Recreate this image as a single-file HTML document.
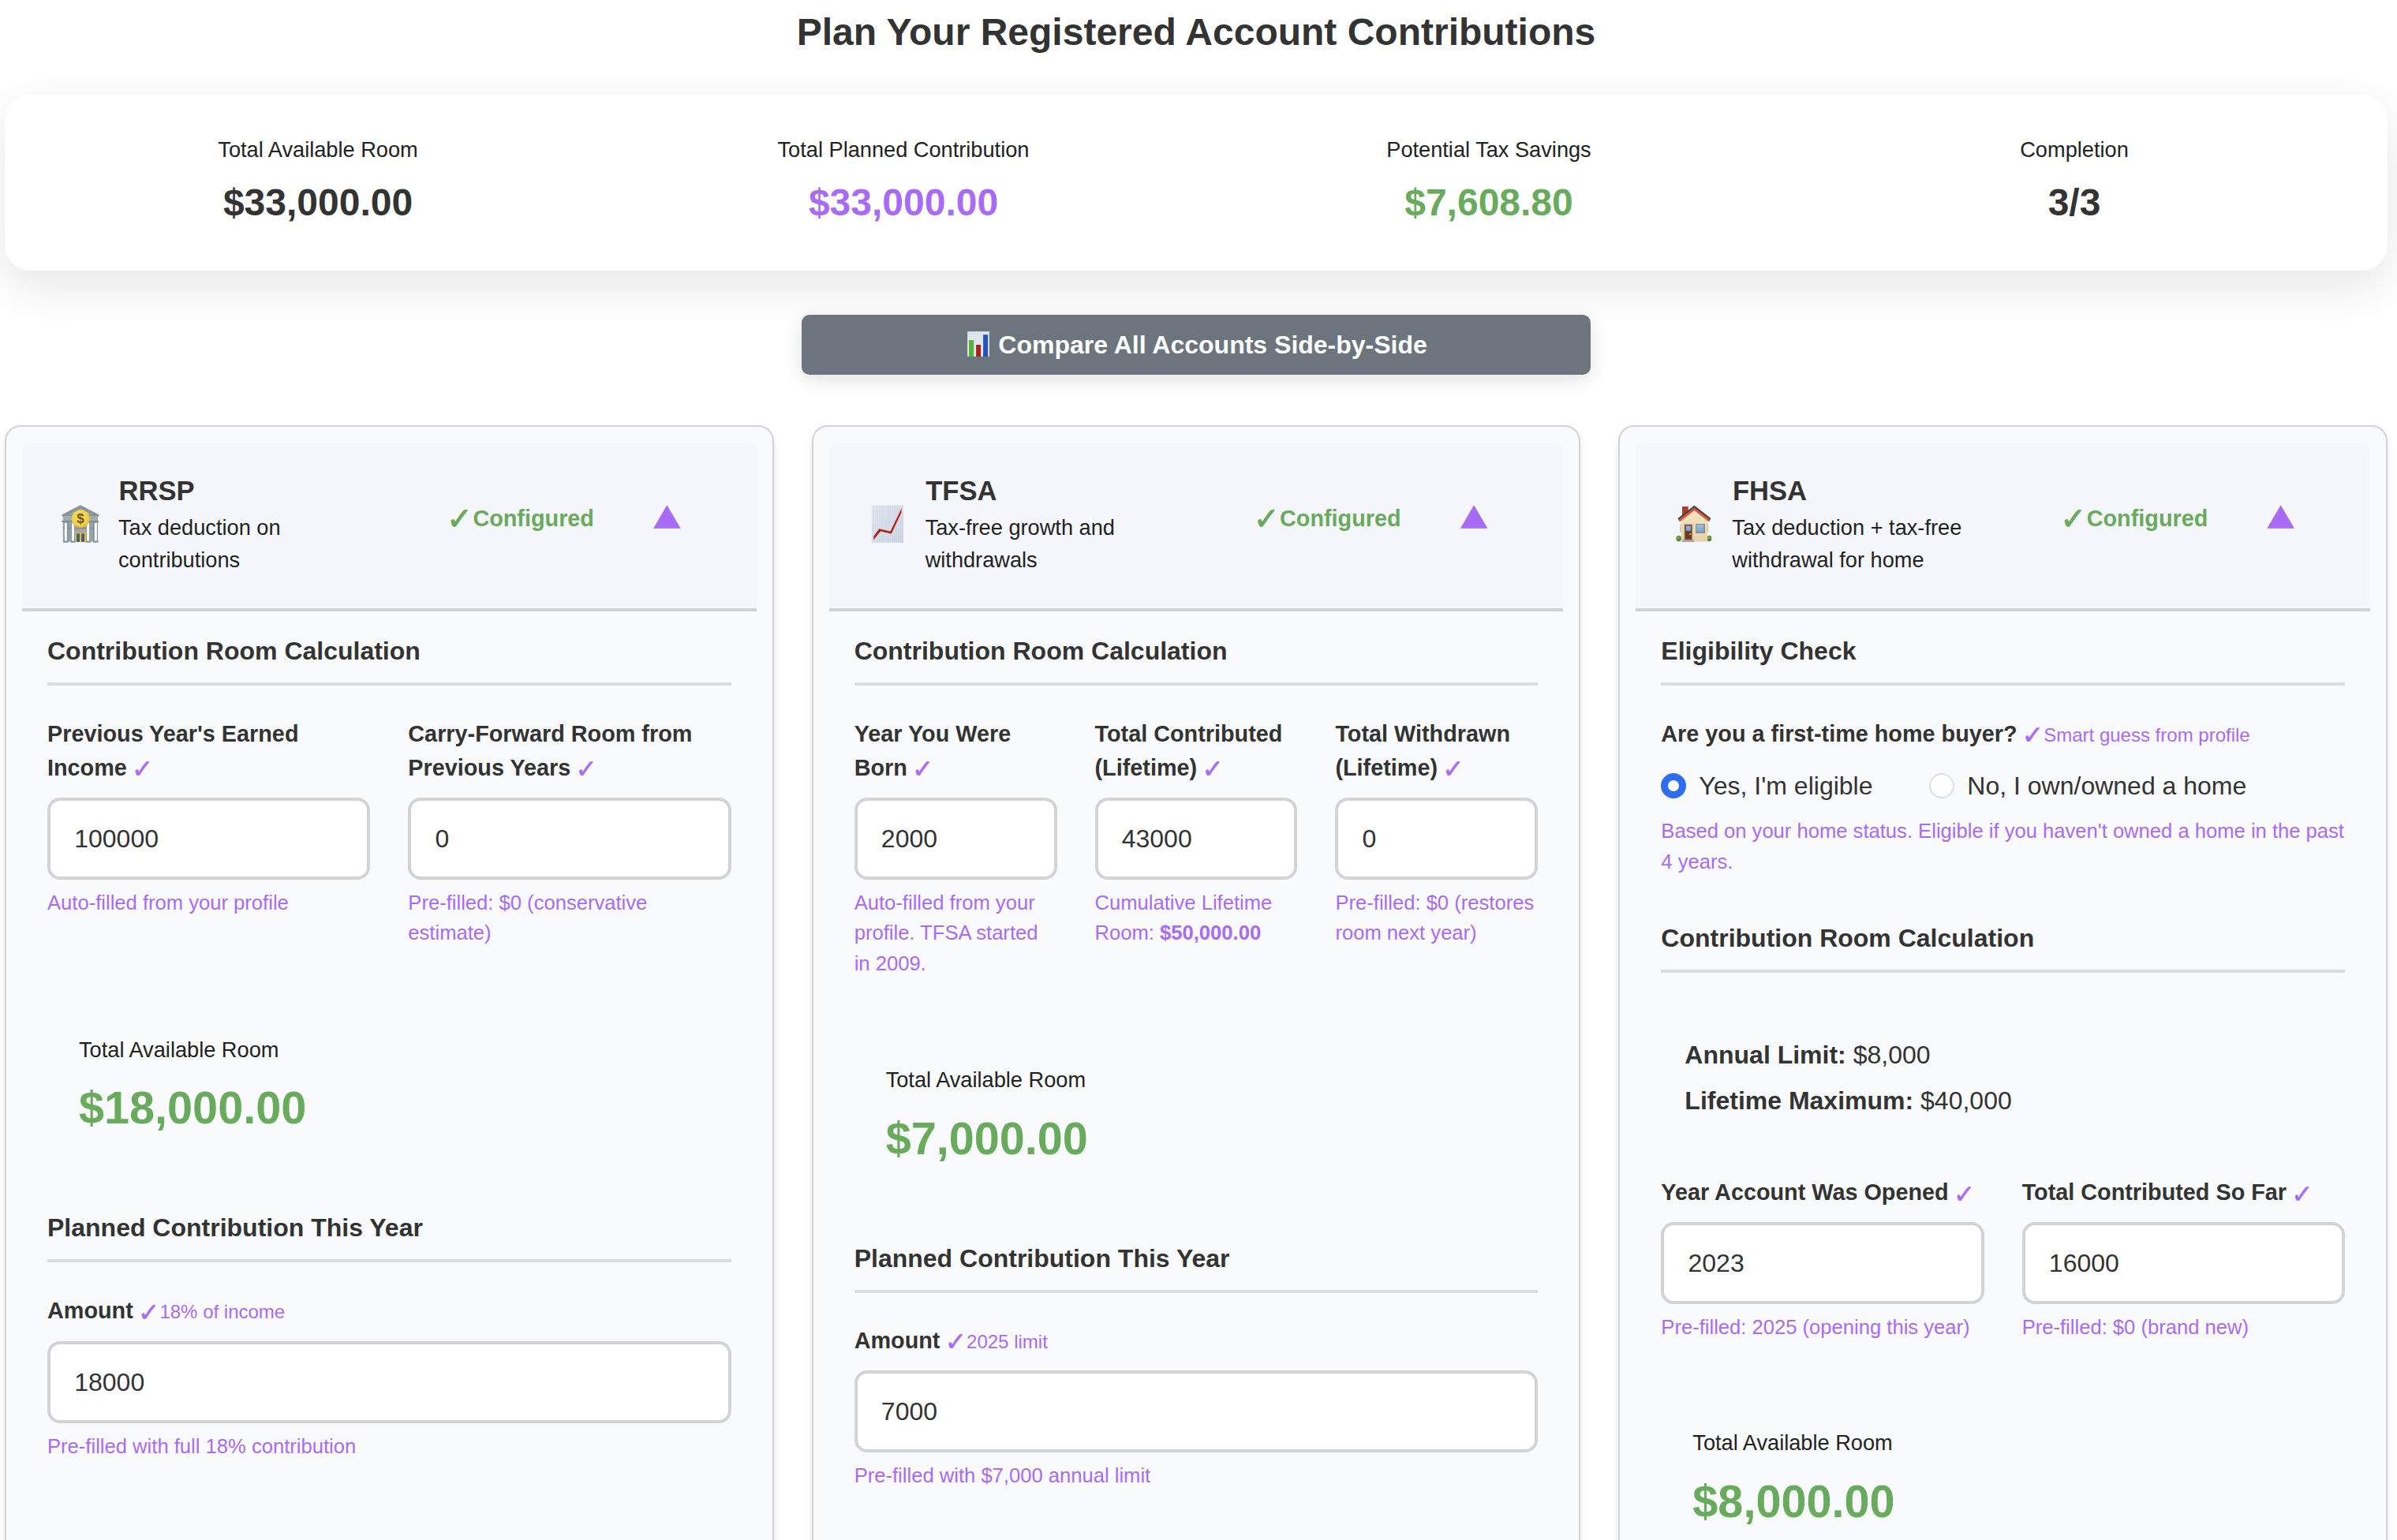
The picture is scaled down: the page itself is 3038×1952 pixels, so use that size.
<!DOCTYPE html>
<html lang="en">
<head>
<meta charset="utf-8">
<title>Plan Your Registered Account Contributions</title>
<style>
html{zoom:2;}
*{box-sizing:border-box;}
body{margin:0;background:#fff;font-family:"Liberation Sans",sans-serif;color:#333;line-height:1.5;font-size:16px;width:1519px;height:976px;overflow:hidden;position:relative;}
.wrap{position:absolute;left:3px;top:0;width:1510px;}
h1{margin:0;position:absolute;left:0;width:1510px;top:2.5px;text-align:center;font-size:24px;line-height:36px;font-weight:bold;color:#333;}
.summary{position:absolute;left:0;top:60px;width:1510px;height:111.5px;background:#fff;border-radius:16px;box-shadow:0 10px 30px rgba(0,0,0,.1);display:grid;grid-template-columns:repeat(4,1fr);column-gap:24px;padding:25.1px 25px 0;}
.summary .it{text-align:center;}
.summary .lb{font-size:13.6px;line-height:20.4px;color:#222;margin-bottom:5.1px;}
.summary .vl{font-size:24px;line-height:36px;font-weight:bold;color:#333;}
.summary .purple,.purple{color:#a86bf8;}
.summary .green,.green{color:#68ab5c;}
.cmp{position:absolute;left:505px;top:199.5px;width:500px;height:38px;border-radius:5px;background:#6c757d;color:#fff;font-weight:bold;font-size:16px;line-height:38px;text-align:center;box-shadow:0 3px 12px rgba(0,0,0,.12);}
.cmp svg{width:14px;height:16px;vertical-align:-1.9px;margin:0 5.6px 0 1.5px;}
.card{position:absolute;top:269.5px;width:487.33px;height:760px;border:1px solid #d3d3d3;border-radius:10px;background:#f9fafc;padding:10px;box-shadow:0 4px 6px -1px rgba(0,0,0,.1),0 2px 4px -1px rgba(0,0,0,.06);}
.c1{left:0;}.c2{left:511.33px;}.c3{left:1022.67px;}
.hd{height:107px;border-bottom:2px solid #d2d2d2;background:#f6f7fc;border-radius:5px 5px 0 0;position:relative;}
.hd .ico{position:absolute;left:21px;top:35.5px;width:32px;height:32px;}
.hd .ttl{position:absolute;left:61.3px;top:17px;font-size:17.3px;line-height:27px;font-weight:bold;color:#333;}
.hd .sub{position:absolute;left:61px;top:44.05px;width:150px;font-size:13.6px;line-height:20.4px;color:#222;}
.hd .cfg{position:absolute;left:285.7px;top:37.6px;font-size:14.4px;line-height:21.6px;font-weight:bold;color:#68ab5c;white-space:nowrap;}
.ck{font-family:"DejaVu Sans",sans-serif;}
.hd .cfg .ck{position:absolute;left:-16.7px;top:-1.2px;font-size:19.5px;font-weight:bold;line-height:24px;-webkit-text-stroke:0.5px #68ab5c;}
.hd .tri{position:absolute;left:400px;top:28.7px;font-family:"DejaVu Sans",sans-serif;font-size:22.5px;line-height:30px;color:#a86bf8;transform:scaleY(.86);transform-origin:50% 100%;}
.bd{position:absolute;left:26px;right:26px;top:0;}
.st{position:absolute;left:0;right:0;font-size:16px;line-height:24px;font-weight:bold;color:#333;padding-bottom:8px;border-bottom:2px solid #dcdcdc;height:34px;white-space:nowrap;}
.fld{position:absolute;}
.fld label{display:block;font-size:14.4px;line-height:21.3px;font-weight:bold;color:#333;margin-bottom:8.3px;}
.fld label .ck{font-weight:normal;color:#a86bf8;font-size:16.5px;line-height:0;-webkit-text-stroke:0.25px #a86bf8;margin-left:-1px;position:relative;top:1.7px;}
.fld label small{font-weight:normal;color:#a86bf8;font-size:12px;line-height:0;}
.inp{height:52px;border:2px solid #d3d3d3;border-radius:8px;background:#fff;font-size:16px;line-height:48.9px;padding:0 14.4px 0 15.1px;color:#333;overflow:hidden;}
.hp{font-size:12.8px;line-height:19.35px;color:#a86bf8;margin-top:5px;}
.hp b{font-weight:bold;}
.tar{position:absolute;left:20px;}
.tar .l{font-size:13.6px;line-height:20.4px;color:#222;}
.tar .v{font-size:28.8px;line-height:43.2px;font-weight:bold;color:#68ab5c;margin-top:5px;}
.q{position:absolute;left:0;font-size:14.4px;line-height:21.6px;font-weight:bold;color:#333;white-space:nowrap;}
.q .ck{font-weight:normal;color:#a86bf8;font-size:16.5px;line-height:0;-webkit-text-stroke:0.25px #a86bf8;margin-left:-1px;position:relative;top:1.7px;}
.q small{font-weight:normal;color:#a86bf8;font-size:12px;line-height:0;}
.rad{position:absolute;left:0;height:24px;font-size:16px;line-height:24px;color:#333;white-space:nowrap;}
.rb{position:absolute;top:4px;width:16px;height:16px;border-radius:50%;}
.rb.on{left:0;background:#fff;border:4.5px solid #2f6df0;}
.rb.off{left:169.7px;background:#fff;border:1px solid #dcdfe5;}
.rt{position:absolute;top:0;}
.rt:nth-of-type(2){left:24px;}
.rt:nth-of-type(4){left:194px;}
.lim{position:absolute;left:15px;font-size:16px;line-height:24px;color:#333;}
.lim div{margin-bottom:5px;}
</style>
</head>
<body>
<div class="wrap">
<h1>Plan Your Registered Account Contributions</h1>
<div class="summary">
<div class="it"><div class="lb">Total Available Room</div><div class="vl">$33,000.00</div></div>
<div class="it"><div class="lb">Total Planned Contribution</div><div class="vl purple">$33,000.00</div></div>
<div class="it"><div class="lb">Potential Tax Savings</div><div class="vl green">$7,608.80</div></div>
<div class="it"><div class="lb">Completion</div><div class="vl">3/3</div></div>
</div>
<div class="cmp"><svg viewBox="0 0 28 32"><defs><linearGradient id="bg1" x1="0" y1="0" x2="0" y2="1"><stop offset="0" stop-color="#dae3ec"/><stop offset="1" stop-color="#e8ebf3"/></linearGradient></defs><rect x="0" y="0" width="28" height="32" fill="url(#bg1)"/><rect x="0" y="0" width="28" height="32" fill="none" stroke="#c3c9d3" stroke-width="0.8"/><rect x="2" y="11.2" width="6.2" height="20.8" fill="#52b53a"/><rect x="11.1" y="17" width="6" height="15" fill="#ab2118"/><rect x="20.1" y="4.2" width="6" height="27.8" fill="#2354ba"/></svg>Compare All Accounts Side-by-Side</div>

<!-- CARD 1 -->
<div class="card c1">
<div class="hd">
<svg class="ico" viewBox="0 0 64 64"><defs><radialGradient id="coin" cx="0.45" cy="0.4" r="0.6"><stop offset="0" stop-color="#f3e65a"/><stop offset="0.75" stop-color="#eed24a"/><stop offset="1" stop-color="#f0ae3a"/></radialGradient></defs><rect x="9.77" y="29.09" width="44.26" height="25.35" fill="#94a3aa"/><polygon points="32.0,8.31 55.28,20.37 55.28,22.65 8.52,22.65 8.52,20.37" fill="#87959a"/><polygon points="32.0,12.47 46.55,19.95 17.46,19.95" fill="#9eb0ba"/><rect x="9.77" y="22.65" width="44.26" height="5.4" fill="#a4adab"/><rect x="8.31" y="27.93" width="46.63" height="2.08" fill="#7e8b90"/><rect x="15.38" y="30.13" width="1.04" height="23.9" fill="#7a888e"/><rect x="48.21" y="30.13" width="1.04" height="23.9" fill="#7a888e"/><rect x="9.77" y="36.58" width="44.26" height="1.45" fill="#7f8d93"/><rect x="10.93" y="30.55" width="4.82" height="23.48" fill="#8a979c"/><rect x="11.85" y="30.84" width="2.99" height="23.19" fill="#fcfbfb"/><rect x="9.98" y="53.41" width="6.73" height="2.29" fill="#86949a" rx="0.6"/><rect x="20.07" y="30.55" width="4.95" height="23.48" fill="#8a979c"/><rect x="20.99" y="30.84" width="3.12" height="23.19" fill="#fcfbfb"/><rect x="19.12" y="53.41" width="6.86" height="2.29" fill="#86949a" rx="0.6"/><rect x="39.07" y="30.55" width="4.95" height="23.48" fill="#8a979c"/><rect x="39.98" y="30.84" width="3.12" height="23.19" fill="#fcfbfb"/><rect x="38.11" y="53.41" width="6.86" height="2.29" fill="#86949a" rx="0.6"/><rect x="48.88" y="30.55" width="4.9" height="23.48" fill="#8a979c"/><rect x="49.79" y="30.84" width="3.08" height="23.19" fill="#fcfbfb"/><rect x="47.92" y="53.41" width="6.82" height="2.29" fill="#86949a" rx="0.6"/><rect x="24.52" y="38.65" width="15.38" height="4.36" fill="#99a9b0"/><rect x="25.56" y="42.81" width="13.51" height="12.14" fill="#e9b92e"/><rect x="27.1" y="44.26" width="3.87" height="10.68" fill="#3d608b"/><rect x="33.13" y="44.26" width="3.87" height="10.68" fill="#3d608b"/><circle cx="32.21" cy="25.56" r="11.31" fill="url(#coin)" stroke="#f0b040" stroke-width="0.5"/><text x="32.0" y="31.2" font-size="17" font-weight="bold" text-anchor="middle" fill="#7a4c25" font-family="Liberation Sans, sans-serif">$</text></svg>
<div class="ttl">RRSP</div>
<div class="sub">Tax deduction on contributions</div>
<div class="cfg"><span class="ck">✓</span> Configured</div>
<div class="tri">▲</div>
</div>
<div class="bd">
<div class="st" style="top:130.1px">Contribution Room Calculation</div>
<div class="fld" style="left:0;top:183.96px;width:204.67px"><label>Previous Year's Earned Income <span class="ck">✓</span></label><div class="inp">100000</div><div class="hp">Auto-filled from your profile</div></div>
<div class="fld" style="left:228.67px;top:183.96px;width:204.67px"><label>Carry-Forward Room from Previous Years <span class="ck">✓</span></label><div class="inp">0</div><div class="hp">Pre-filled: $0 (conservative estimate)</div></div>
<div class="tar" style="top:384.8px"><div class="l">Total Available Room</div><div class="v">$18,000.00</div></div>
<div class="st" style="top:495.4px">Planned Contribution This Year</div>
<div class="fld" style="left:0;top:549.7px;width:433.33px"><label>Amount <span class="ck">✓</span><small>18% of income</small></label><div class="inp">18000</div><div class="hp">Pre-filled with full 18% contribution</div></div>
</div>
</div>

<!-- CARD 2 -->
<div class="card c2">
<div class="hd">
<svg class="ico" viewBox="0 0 64 64"><defs><linearGradient id="cbg" x1="0" y1="0" x2="1" y2="1"><stop offset="0" stop-color="#eaeef4"/><stop offset="1" stop-color="#d3dae3"/></linearGradient><pattern id="grd" width="1.6" height="1.6" patternUnits="userSpaceOnUse"><path d="M0 0.4H1.6M0.4 0V1.6" stroke="#b4c6dc" stroke-width="0.45" fill="none" opacity="0.5"/></pattern></defs><rect x="11.85" y="8.52" width="40.11" height="47.38" fill="url(#cbg)"/><rect x="11.85" y="8.52" width="40.11" height="47.38" fill="url(#grd)"/><polygon points="13.92,47.8 21.2,37.82 35.33,41.15 49.88,11.01 49.88,17.46 36.99,45.1 23.07,41.77 13.92,53.2" fill="#b2231a" stroke="#e4f1f6" stroke-width="0.6" stroke-linejoin="miter"/></svg>
<div class="ttl">TFSA</div>
<div class="sub">Tax-free growth and withdrawals</div>
<div class="cfg"><span class="ck">✓</span> Configured</div>
<div class="tri">▲</div>
</div>
<div class="bd">
<div class="st" style="top:130.1px">Contribution Room Calculation</div>
<div class="fld" style="left:0;top:183.96px;width:128.44px"><label>Year You Were Born <span class="ck">✓</span></label><div class="inp">2000</div><div class="hp">Auto-filled from your profile. TFSA started in 2009.</div></div>
<div class="fld" style="left:152.44px;top:183.96px;width:128.44px"><label>Total Contributed (Lifetime) <span class="ck">✓</span></label><div class="inp">43000</div><div class="hp">Cumulative Lifetime Room: <b>$50,000.00</b></div></div>
<div class="fld" style="left:304.89px;top:183.96px;width:128.44px"><label>Total Withdrawn (Lifetime) <span class="ck">✓</span></label><div class="inp">0</div><div class="hp">Pre-filled: $0 (restores room next year)</div></div>
<div class="tar" style="top:404px"><div class="l">Total Available Room</div><div class="v">$7,000.00</div></div>
<div class="st" style="top:514.8px">Planned Contribution This Year</div>
<div class="fld" style="left:0;top:568.35px;width:433.33px"><label>Amount <span class="ck">✓</span><small>2025 limit</small></label><div class="inp">7000</div><div class="hp">Pre-filled with $7,000 annual limit</div></div>
</div>
</div>

<!-- CARD 3 -->
<div class="card c3">
<div class="hd">
<svg class="ico" viewBox="0 0 64 64"><defs><linearGradient id="wall" x1="0" y1="0" x2="0" y2="1"><stop offset="0" stop-color="#f5e6c2"/><stop offset="1" stop-color="#e4d2aa"/></linearGradient><radialGradient id="bush" cx="0.45" cy="0.35" r="0.7"><stop offset="0" stop-color="#86b551"/><stop offset="1" stop-color="#3f6e24"/></radialGradient><linearGradient id="glass" x1="0" y1="0" x2="0" y2="1"><stop offset="0" stop-color="#8fc0ee"/><stop offset="1" stop-color="#6e9fd4"/></linearGradient></defs><ellipse cx="12.68" cy="50.5" rx="3.24" ry="3.66" fill="url(#bush)"/><ellipse cx="51.21" cy="50.5" rx="3.12" ry="3.66" fill="url(#bush)"/><rect x="17.04" y="9.98" width="7.69" height="11.64" fill="#a83f2c"/><rect x="13.92" y="32.21" width="2.29" height="10.18" fill="#dccaa6"/><rect x="48.84" y="32.21" width="1.16" height="10.18" fill="#cdbb98"/><polygon points="32.42,14.34 49.04,27.43 49.04,54.45 16.0,54.45 16.0,27.43" fill="url(#wall)"/><polygon points="32.42,8.81 53.33,25.06 51.37,28.76 32.42,13.92 13.51,28.76 11.55,25.06" fill="#35403f"/><polygon points="32.42,10.89 52.29,26.27 50.62,28.93 32.42,14.63 14.26,28.93 12.59,26.27" fill="#d3503f"/><polygon points="32.42,14.63 49.04,27.51 49.04,29.09 32.42,16.29 16.0,29.09 16.0,27.51" fill="#c9b48e" opacity="0.7"/><rect x="19.33" y="32.21" width="11.22" height="19.95" fill="#c3ab88"/><rect x="20.37" y="33.25" width="8.85" height="18.62" fill="#6d3926"/><rect x="21.82" y="34.58" width="6.03" height="6.36" fill="url(#glass)"/><circle cx="27.22" cy="45.1" r="1.0" fill="#f0d458"/><rect x="34.08" y="32.0" width="11.93" height="11.93" fill="#9c866c"/><rect x="35.12" y="33.04" width="9.19" height="9.77" fill="url(#glass)"/><polygon points="18.29,52.16 31.38,52.16 32.83,54.78 16.83,54.78" fill="#a39a8a"/></svg>
<div class="ttl">FHSA</div>
<div class="sub" style="width:190px">Tax deduction + tax-free withdrawal for home</div>
<div class="cfg"><span class="ck">✓</span> Configured</div>
<div class="tri">▲</div>
</div>
<div class="bd">
<div class="st" style="top:130.1px">Eligibility Check</div>
<div class="q" style="top:183.96px">Are you a first-time home buyer? <span class="ck">✓</span><small>Smart guess from profile</small></div>
<div class="rad" style="top:215.5px"><span class="rb on"></span><span class="rt">Yes, I'm eligible</span><span class="rb off"></span><span class="rt">No, I own/owned a home</span></div>
<div class="hp" style="position:absolute;left:0;top:246.7px;width:433.33px;margin:0">Based on your home status. Eligible if you haven't owned a home in the past 4 years.</div>
<div class="st" style="top:312.2px">Contribution Room Calculation</div>
<div class="lim" style="top:386px"><div><b>Annual Limit:</b> $8,000</div><div><b>Lifetime Maximum:</b> $40,000</div></div>
<div class="fld" style="left:0;top:474.6px;width:204.67px"><label>Year Account Was Opened <span class="ck">✓</span></label><div class="inp">2023</div><div class="hp">Pre-filled: 2025 (opening this year)</div></div>
<div class="fld" style="left:228.67px;top:474.6px;width:204.67px"><label>Total Contributed So Far <span class="ck">✓</span></label><div class="inp">16000</div><div class="hp">Pre-filled: $0 (brand new)</div></div>
<div class="tar" style="top:634px"><div class="l">Total Available Room</div><div class="v">$8,000.00</div></div>
</div>
</div>

</div>
</body>
</html>
